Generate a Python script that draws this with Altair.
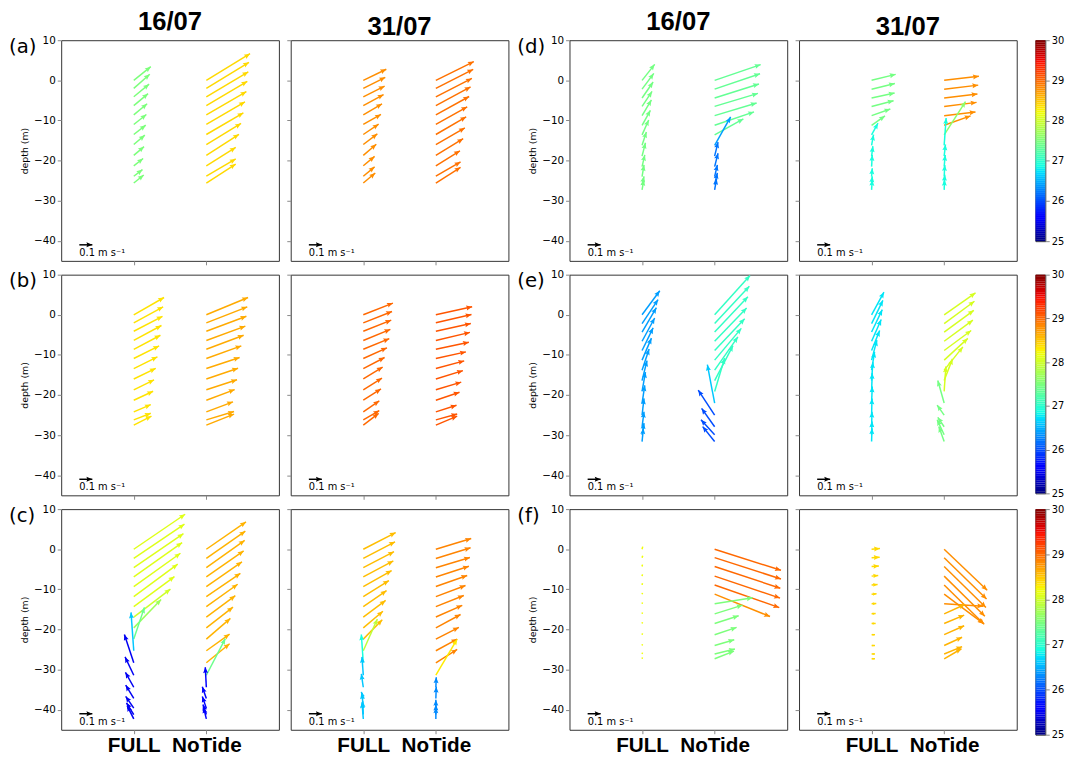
import math
import numpy as np
import pandas as pd
import altair as alt

# ---------------- data (velocities in cm/s, temperature in degC) ----------------
DATES = ["16/07", "31/07"]
XCATS = ["FULL", "NoTide"]
LETTERS = ["(a)", "(b)", "(c)", "(d)", "(e)", "(f)"]
YTICKS = [-40, -30, -20, -10, 0, 10]
CB_TICKS = [25, 26, 27, 28, 29, 30]
KEY_SPEED = 10.0  # cm/s reference arrow (0.1 m/s)

DEPTH_A = [0, -2.0, -4.1, -6.3, -8.6, -11.0, -13.5, -16.0, -18.7, -21.3, -23.9, -25.6]
DEPTH_B = [0, -2.0, -4.1, -6.4, -8.6, -10.9, -13.4, -16.0, -18.7, -21.3, -24.2, -26.2, -27.5]
DEPTH_C = [0, -2.3, -4.6, -6.9, -9.3, -11.8, -14.3, -16.9, -19.6, -22.4, -25.3, -28.3, -31.4, -34.4, -37.2, -39.6, -41.2, -42.3]
DEPTH_D = [0, -2.2, -4.4, -6.5, -8.8, -11.2, -13.6, -16.2, -18.9, -21.5, -24.0, -26.0, -27.3]
DEPTH_E = [0, -2.2, -4.3, -6.6, -8.9, -11.3, -13.8, -16.4, -19.1, -22.0, -25.0, -27.9, -29.9, -31.6]
DEPTH_F = [0, -2.1, -4.3, -6.7, -8.9, -11.2, -13.6, -16.1, -18.5, -21.3, -24.0, -26.1, -27.3]

A16_FULL_U = [13.1, 12.3, 11.8, 11.0, 10.3, 9.7, 9.2, 8.5, 7.9, 7.2, 6.7, 7.7]
A16_FULL_V = [10.5, 10.8, 9.7, 9.2, 8.5, 7.7, 7.2, 7.2, 6.7, 5.6, 5.1, 6.2]
A16_FULL_T = [27.5, 27.5, 27.5, 27.5, 27.5, 27.5, 27.5, 27.5, 27.5, 27.5, 27.5, 27.5]
A16_NOTIDE_U = [33.6, 32.8, 32.3, 31.5, 30.8, 29.7, 28.5, 26.7, 25.1, 22.6, 22.6, 22.6]
A16_NOTIDE_V = [20.5, 20.0, 19.2, 18.7, 17.9, 17.4, 16.7, 16.2, 16.2, 14.1, 13.3, 14.6]
A16_NOTIDE_T = [28.4, 28.4, 28.4, 28.4, 28.4, 28.4, 28.4, 28.4, 28.4, 28.4, 28.4, 28.4]

A31_FULL_U = [17.7, 16.9, 16.4, 15.6, 14.4, 13.6, 11.8, 10.8, 10.0, 8.7, 8.7, 9.2]
A31_FULL_V = [8.5, 8.5, 8.2, 8.5, 8.5, 7.7, 7.9, 8.2, 8.5, 7.2, 7.2, 7.7]
A31_FULL_T = [28.8, 28.8, 28.8, 28.8, 28.8, 28.8, 28.8, 28.8, 28.8, 28.8, 28.8, 28.8]
A31_NOTIDE_U = [29.2, 28.7, 27.7, 26.7, 25.6, 24.1, 23.3, 22.3, 21.0, 18.5, 19.0, 19.0]
A31_NOTIDE_V = [14.4, 14.6, 14.1, 14.4, 14.1, 13.6, 13.6, 12.8, 12.8, 11.5, 11.0, 12.1]
A31_NOTIDE_T = [28.95, 28.95, 28.95, 28.95, 28.95, 28.95, 28.95, 28.95, 28.95, 28.95, 28.95, 28.95]

B16_FULL_U = [23.3, 22.6, 22.1, 21.3, 20.5, 19.5, 18.2, 16.9, 15.6, 14.9, 13.1, 13.1, 13.6]
B16_FULL_V = [13.3, 12.3, 11.5, 11.5, 10.8, 9.7, 9.0, 8.2, 7.7, 6.9, 5.6, 5.1, 6.9]
B16_FULL_T = [28.35, 28.35, 28.35, 28.35, 28.35, 28.35, 28.35, 28.35, 28.35, 28.35, 28.35, 28.35, 28.35]
B16_NOTIDE_U = [32.1, 31.5, 30.8, 30.0, 28.7, 26.9, 25.6, 24.4, 23.6, 21.8, 20.5, 21.3, 21.3]
B16_NOTIDE_V = [13.3, 12.3, 11.5, 11.0, 10.8, 9.7, 8.5, 8.2, 7.7, 8.2, 7.7, 6.4, 8.5]
B16_NOTIDE_T = [28.65, 28.65, 28.65, 28.65, 28.65, 28.65, 28.65, 28.65, 28.65, 28.65, 28.65, 28.65, 28.65]

B31_FULL_U = [22.8, 22.1, 21.5, 20.8, 20.0, 18.2, 16.4, 14.9, 14.4, 13.6, 12.3, 12.3, 11.8]
B31_FULL_V = [9.0, 8.7, 8.5, 8.5, 8.2, 8.2, 8.5, 9.2, 9.0, 8.7, 8.5, 7.2, 9.0]
B31_FULL_T = [29.0, 29.0, 29.0, 29.0, 29.0, 29.0, 29.0, 29.0, 29.0, 29.0, 29.0, 29.0, 29.0]
B31_NOTIDE_U = [27.9, 27.4, 26.9, 26.2, 25.4, 23.1, 21.8, 20.8, 19.5, 18.2, 15.9, 16.4, 16.4]
B31_NOTIDE_V = [6.2, 6.4, 5.9, 6.2, 5.4, 5.1, 5.9, 6.4, 5.9, 6.2, 5.1, 4.6, 6.9]
B31_NOTIDE_T = [29.1, 29.1, 29.1, 29.1, 29.1, 29.1, 29.1, 29.1, 29.1, 29.1, 29.1, 29.1, 29.1]

C16_FULL_U = [39.5, 39.0, 38.2, 37.2, 35.9, 33.8, 31.3, 28.2, 21.0, 8.2, -2.1, -7.2, -6.7, -6.4, -6.2, -6.2, -5.6, -5.1]
C16_FULL_V = [26.9, 26.4, 26.2, 26.4, 25.6, 24.9, 23.1, 21.5, 21.8, 24.4, 29.5, 21.8, 14.1, 11.5, 10.3, 9.0, 9.0, 10.3]
C16_FULL_T = [28.1, 28.1, 28.1, 28.1, 28.1, 28.1, 28.1, 28.0, 27.7, 27.4, 26.6, 25.5, 25.5, 25.5, 25.5, 25.5, 25.5, 25.5]
C16_NOTIDE_U = [30.5, 30.0, 29.5, 28.7, 27.4, 26.2, 24.1, 22.3, 20.5, 18.5, 17.9, 17.9, 14.6, -0.8, -3.1, -3.1, -2.6, -2.1]
C16_NOTIDE_V = [21.0, 21.0, 21.0, 20.0, 19.0, 17.9, 17.2, 16.4, 15.9, 15.9, 12.8, 14.6, 28.2, 15.4, 9.0, 9.0, 7.7, 9.0]
C16_NOTIDE_T = [28.6, 28.6, 28.6, 28.6, 28.6, 28.6, 28.6, 28.6, 28.6, 28.6, 28.6, 28.6, 27.4, 25.6, 25.6, 25.6, 25.6, 25.6]

C31_FULL_U = [24.9, 24.4, 23.6, 23.1, 21.8, 19.7, 17.9, 17.2, 15.1, 14.6, 10.8, -1.5, -1.0, -1.5, -1.5, -1.0, -0.5, -1.0]
C31_FULL_V = [12.8, 12.8, 12.3, 12.3, 12.3, 12.3, 12.3, 12.8, 12.8, 14.9, 24.4, 21.8, 14.1, 10.3, 5.1, 11.5, 10.3, 12.8]
C31_FULL_T = [28.55, 28.55, 28.55, 28.55, 28.55, 28.55, 28.55, 28.55, 28.55, 28.55, 27.9, 26.9, 26.6, 26.6, 26.6, 26.6, 26.6, 26.6]
C31_NOTIDE_U = [27.2, 26.7, 26.2, 25.4, 24.1, 22.8, 21.5, 20.3, 19.0, 17.7, 16.4, 16.4, 16.4, 0.3, 0.3, 0.0, 0.0, 0.0]
C31_NOTIDE_V = [8.2, 8.2, 7.9, 8.2, 8.5, 8.5, 8.5, 9.0, 10.3, 9.0, 9.0, 10.3, 27.7, 7.7, 9.0, 6.4, 7.7, 9.0]
C31_NOTIDE_T = [28.85, 28.85, 28.85, 28.85, 28.85, 28.85, 28.85, 28.85, 28.85, 28.85, 28.85, 28.85, 28.3, 26.3, 26.3, 26.3, 26.3, 26.3]

D16_FULL_U = [9.7, 9.0, 8.5, 7.7, 7.2, 6.4, 5.1, 3.3, 2.6, 2.1, 1.5, 1.5, 1.3]
D16_FULL_V = [12.3, 12.1, 12.3, 11.5, 12.1, 11.5, 11.5, 10.3, 10.3, 9.0, 9.0, 6.4, 7.7]
D16_FULL_T = [27.45, 27.45, 27.45, 27.45, 27.45, 27.45, 27.45, 27.45, 27.45, 27.45, 27.45, 27.45, 27.45]
D16_NOTIDE_U = [35.4, 34.9, 34.1, 33.3, 32.3, 30.3, 22.1, 12.3, 2.6, 2.6, 2.1, 2.1, 1.5]
D16_NOTIDE_V = [12.1, 11.8, 10.8, 10.0, 9.7, 10.3, 12.3, 21.8, 10.8, 10.3, 9.0, 9.0, 8.5]
D16_NOTIDE_T = [27.35, 27.35, 27.35, 27.35, 27.35, 27.35, 27.35, 26.4, 26.2, 26.2, 26.2, 26.2, 26.2]

D31_FULL_U = [18.5, 17.9, 17.7, 16.9, 14.4, 10.3, 4.9, 1.5, 1.0, 0.5, 0.5, 0.5, 0.5]
D31_FULL_V = [4.6, 4.4, 3.8, 4.4, 5.1, 7.2, 9.0, 8.2, 7.7, 9.0, 6.4, 6.4, 7.7]
D31_FULL_T = [27.45, 27.45, 27.45, 27.45, 27.45, 27.45, 26.9, 26.9, 26.9, 26.9, 26.9, 26.9, 26.9]
D31_NOTIDE_U = [26.7, 26.2, 25.6, 24.9, 24.1, 20.3, 16.4, 1.5, 1.0, 0.8, 0.5, 0.5, 0.3]
D31_NOTIDE_V = [3.1, 3.1, 3.1, 3.1, 2.8, 7.2, 25.6, 21.0, 9.0, 9.0, 9.0, 7.7, 7.7]
D31_NOTIDE_T = [28.8, 28.8, 28.8, 28.8, 28.8, 28.8, 27.6, 26.9, 26.9, 26.9, 26.9, 26.9, 26.9]

E16_FULL_U = [13.6, 12.3, 11.0, 9.7, 8.5, 7.2, 5.4, 3.8, 2.6, 2.1, 1.5, 1.5, 1.5, 1.0]
E16_FULL_V = [18.5, 18.5, 18.7, 17.9, 17.4, 16.9, 16.2, 15.4, 14.9, 13.6, 12.8, 11.5, 9.0, 10.3]
E16_FULL_T = [26.4, 26.4, 26.4, 26.4, 26.4, 26.4, 26.4, 26.4, 26.4, 26.4, 26.4, 26.4, 26.4, 26.4]
E16_NOTIDE_U = [27.2, 26.7, 25.6, 24.6, 23.1, 20.5, 17.9, 14.1, 7.7, -5.6, -12.6, -10.0, -10.5, -9.2]
E16_NOTIDE_V = [30.3, 28.7, 27.2, 25.6, 24.4, 24.4, 25.6, 26.9, 25.6, 29.5, 19.2, 14.1, 11.5, 11.5]
E16_NOTIDE_T = [27.05, 27.05, 27.05, 27.05, 27.05, 27.05, 27.05, 27.05, 27.05, 26.6, 26.0, 26.0, 26.0, 26.0]

E31_FULL_U = [9.5, 8.7, 8.2, 7.4, 6.2, 4.1, 2.3, 1.0, 0.5, 0.5, 0.3, 0.3, 0.3, 0.3]
E31_FULL_V = [17.4, 17.9, 17.2, 16.7, 15.4, 15.4, 14.1, 14.1, 14.1, 12.8, 12.8, 11.5, 10.3, 10.3]
E31_FULL_T = [26.75, 26.75, 26.75, 26.75, 26.75, 26.75, 26.75, 26.75, 26.75, 26.75, 26.75, 26.75, 26.75, 26.75]
E31_NOTIDE_U = [24.1, 23.3, 22.8, 22.1, 20.8, 18.2, 14.4, 6.4, 1.3, -4.9, -5.4, -4.9, -5.4, -4.1]
E31_NOTIDE_V = [16.9, 17.2, 16.7, 16.2, 15.4, 16.7, 17.9, 16.7, 19.2, 17.4, 7.7, 7.2, 11.5, 11.5]
E31_NOTIDE_T = [28.05, 28.05, 28.05, 28.05, 28.05, 28.05, 28.05, 28.05, 28.05, 27.45, 27.45, 27.45, 27.45, 27.45]

F16_FULL_U = [0.5, 0.5, 0.3, 0.3, 0.3, 0.3, 0.3, 0.3, 0.3, 0.3, 0.3, 0.3, 0.3]
F16_FULL_V = [2.0, 1.5, 1.5, 1.3, 1.3, 1.0, 1.0, 1.0, 1.0, 1.0, 1.0, 1.0, 1.0]
F16_FULL_T = [28.2, 28.2, 28.2, 28.2, 28.2, 28.2, 28.2, 28.2, 28.2, 28.2, 28.2, 28.2, 28.2]
F16_NOTIDE_U = [51.0, 51.0, 50.5, 50.3, 49.7, 42.6, 29.2, 21.5, 18.5, 16.9, 15.1, 15.6, 14.9]
F16_NOTIDE_V = [-16.2, -16.4, -16.7, -16.9, -17.4, -17.2, 4.6, 6.7, 5.9, 5.6, 4.4, 3.8, 5.9]
F16_NOTIDE_T = [29.0, 29.0, 29.0, 29.0, 29.0, 28.8, 27.5, 27.5, 27.5, 27.5, 27.5, 27.5, 27.5]

F31_FULL_U = [6.4, 6.2, 5.6, 5.1, 4.6, 3.8, 3.6, 3.1, 3.1, 2.6, 2.6, 2.6, 2.6]
F31_FULL_V = [0.5, 0.3, 0.3, 0.5, 0.3, 0.3, 0.3, 0.3, 0.0, 0.0, 0.0, 0.0, 0.0]
F31_FULL_T = [28.4, 28.4, 28.4, 28.4, 28.4, 28.4, 28.4, 28.4, 28.4, 28.4, 28.4, 28.4, 28.4]
F31_NOTIDE_U = [33.1, 32.6, 32.1, 31.3, 30.8, 30.3, 30.0, 15.9, 15.4, 15.4, 13.8, 13.8, 13.3]
F31_NOTIDE_V = [-31.5, -31.8, -31.5, -30.8, -30.3, -22.6, -1.8, 7.2, 6.4, 6.9, 6.4, 5.6, 7.7]
F31_NOTIDE_T = [28.8, 28.8, 28.8, 28.8, 28.8, 28.8, 28.8, 28.6, 28.6, 28.6, 28.6, 28.6, 28.6]

# ---------------- layout / style ----------------
W, H = 221, 224
CB_HEIGHTS = [204, 222, 229]
XDOM = [0, 3]
YDOM = [-45, 10]
PX_PER_CMS = 1.32          # quiver scale: 0.1 m/s -> ~13 px
HEAD_PATH = "M0,0L-0.42,1L0,0.85L0.42,1Z"
HEAD_SIZE = 144
KX = W / (XDOM[1] - XDOM[0])
KY = H / (YDOM[1] - YDOM[0])

# jet colormap, 25..30 degC
JET_STOPS = [0, 0.11, 0.125, 0.34, 0.35, 0.375, 0.64, 0.65, 0.66, 0.89, 0.91, 1.0]


def jet_hex(t):
    r = np.interp(t, [0, 0.35, 0.66, 0.89, 1], [0, 0, 1, 1, 0.5])
    g = np.interp(t, [0, 0.125, 0.375, 0.64, 0.91, 1], [0, 0, 1, 1, 0, 0])
    b = np.interp(t, [0, 0.11, 0.34, 0.65, 1], [0.5, 1, 1, 0, 0])
    return "#%02x%02x%02x" % (int(round(r * 255)), int(round(g * 255)), int(round(b * 255)))


CSCALE = alt.Scale(domain=[25 + 5 * s for s in JET_STOPS],
                   range=[jet_hex(s) for s in JET_STOPS], interpolate="rgb", clamp=True)
XS = alt.Scale(domain=XDOM, nice=False, zero=False)
YS = alt.Scale(domain=YDOM, nice=False, zero=False)


def arrow_rec(x, d, u, v, t):
    dxp, dyp = u * PX_PER_CMS, v * PX_PER_CMS
    L = math.hypot(dxp, dyp)
    k = min(1.0, L / 8.0)
    return dict(x0=x, y0=d, x1=x + dxp / KX, y1=d + dyp / KY,
                ang=math.degrees(math.atan2(dxp, dyp)) % 360,
                sz=HEAD_SIZE * k * k, T=t)


def panel(depth, full, notide, letter=None, title=None, ylab=True, xlab=False):
    recs = []
    for xpos, (us, vs, ts) in ((1, full), (2, notide)):
        for d, u, v, t in zip(depth, us, vs, ts):
            recs.append(arrow_rec(xpos, d, u, v, t))
    df = pd.DataFrame(recs)
    key = pd.DataFrame([arrow_rec(0.25, -41.0, KEY_SPEED, 0.0, 0.0)])
    key["label"] = "0.1 m s\u207b\u00b9"

    xaxis = alt.Axis(values=[1, 2], labels=xlab,
                     labelExpr="datum.value == 1 ? '%s' : '%s'" % (XCATS[0], XCATS[1]),
                     labelFontSize=21, labelFont="Liberation Sans", labelFontWeight="bold",
                     labelColor="black", labelPadding=1, tickSize=4, domain=False,
                     grid=False, title=None)
    yk = dict(values=YTICKS, labels=ylab, tickSize=4, domain=False, grid=False,
              labelFontSize=10.5, labelFont="DejaVu Sans", labelColor="black", labelPadding=2)
    if ylab:
        yk.update(title="depth (m)", titleFontSize=9.5, titleFont="DejaVu Sans",
                  titleFontWeight="normal", titleColor="black", titlePadding=4)
    else:
        yk.update(title=None)
    yaxis = alt.Axis(**yk)

    def X(f):
        return alt.X(f, type="quantitative", scale=XS, axis=xaxis)

    def Y(f):
        return alt.Y(f, type="quantitative", scale=YS, axis=yaxis)

    col = alt.Color("T:Q", scale=CSCALE, legend=None)
    base = alt.Chart(df)
    shafts = base.mark_rule(strokeWidth=1.5).encode(x=X("x0"), y=Y("y0"), x2="x1", y2="y1", color=col)
    heads = base.mark_point(shape=HEAD_PATH, filled=True, opacity=1, strokeWidth=0).encode(
        x=X("x1"), y=Y("y1"), angle=alt.Angle("ang:Q", scale=None),
        size=alt.Size("sz:Q", scale=None), color=col)
    kb = alt.Chart(key)
    kshaft = kb.mark_rule(strokeWidth=1.5, color="black").encode(x=X("x0"), y=Y("y0"), x2="x1", y2="y1")
    khead = kb.mark_point(shape=HEAD_PATH, filled=True, opacity=1, strokeWidth=0, color="black").encode(
        x=X("x1"), y=Y("y1"), angle=alt.Angle("ang:Q", scale=None), size=alt.Size("sz:Q", scale=None))
    ktext = kb.mark_text(align="left", baseline="middle", fontSize=10, font="DejaVu Sans",
                         color="black", dy=8).encode(x=X("x0"), y=Y("y0"), text="label:N")
    layers = [shafts, heads, kshaft, khead, ktext]
    if letter:
        lt = alt.Chart(pd.DataFrame({"t": [letter]})).mark_text(
            align="left", baseline="middle", fontSize=20, font="DejaVu Sans", color="black").encode(
            x=alt.value(-53), y=alt.value(7), text="t:N")
        layers.append(lt)
    props = dict(width=W, height=H)
    if title:
        props["title"] = alt.TitleParams(text=title, fontSize=26, font="Liberation Sans",
                                         fontWeight="bold", color="black", anchor="middle", offset=0)
    return alt.layer(*layers).properties(**props)


def colorbar(h):
    edges = np.linspace(25, 30, 101)
    df = pd.DataFrame({"lo": edges[:-1], "hi": edges[1:], "mid": (edges[:-1] + edges[1:]) / 2})
    return alt.Chart(df).mark_rect().encode(
        y=alt.Y("lo:Q", scale=alt.Scale(domain=[25, 30], nice=False, zero=False),
                axis=alt.Axis(orient="right", values=CB_TICKS, title=None, tickSize=4, domain=False,
                              grid=False, labelFontSize=10, labelFont="DejaVu Sans", labelColor="black")),
        y2="hi", color=alt.Color("mid:Q", scale=CSCALE, legend=None)
    ).properties(width=10, height=h)


rows_def = [
    (DEPTH_A, (A16_FULL_U, A16_FULL_V, A16_FULL_T), (A16_NOTIDE_U, A16_NOTIDE_V, A16_NOTIDE_T),
     (A31_FULL_U, A31_FULL_V, A31_FULL_T), (A31_NOTIDE_U, A31_NOTIDE_V, A31_NOTIDE_T),
     DEPTH_D, (D16_FULL_U, D16_FULL_V, D16_FULL_T), (D16_NOTIDE_U, D16_NOTIDE_V, D16_NOTIDE_T),
     (D31_FULL_U, D31_FULL_V, D31_FULL_T), (D31_NOTIDE_U, D31_NOTIDE_V, D31_NOTIDE_T)),
    (DEPTH_B, (B16_FULL_U, B16_FULL_V, B16_FULL_T), (B16_NOTIDE_U, B16_NOTIDE_V, B16_NOTIDE_T),
     (B31_FULL_U, B31_FULL_V, B31_FULL_T), (B31_NOTIDE_U, B31_NOTIDE_V, B31_NOTIDE_T),
     DEPTH_E, (E16_FULL_U, E16_FULL_V, E16_FULL_T), (E16_NOTIDE_U, E16_NOTIDE_V, E16_NOTIDE_T),
     (E31_FULL_U, E31_FULL_V, E31_FULL_T), (E31_NOTIDE_U, E31_NOTIDE_V, E31_NOTIDE_T)),
    (DEPTH_C, (C16_FULL_U, C16_FULL_V, C16_FULL_T), (C16_NOTIDE_U, C16_NOTIDE_V, C16_NOTIDE_T),
     (C31_FULL_U, C31_FULL_V, C31_FULL_T), (C31_NOTIDE_U, C31_NOTIDE_V, C31_NOTIDE_T),
     DEPTH_F, (F16_FULL_U, F16_FULL_V, F16_FULL_T), (F16_NOTIDE_U, F16_NOTIDE_V, F16_NOTIDE_T),
     (F31_FULL_U, F31_FULL_V, F31_FULL_T), (F31_NOTIDE_U, F31_NOTIDE_V, F31_NOTIDE_T)),
]

rows = []
for i, (dl, l16f, l16n, l31f, l31n, dr, r16f, r16n, r31f, r31n) in enumerate(rows_def):
    top = i == 0
    bottom = i == 2
    t16 = DATES[0] if top else None
    t31 = DATES[1] if top else None
    p1 = panel(dl, l16f, l16n, letter=LETTERS[i], title=t16, ylab=True, xlab=bottom)
    p2 = panel(dl, l31f, l31n, title=t31, ylab=False, xlab=bottom)
    p3 = panel(dr, r16f, r16n, letter=LETTERS[i + 3], title=t16, ylab=True, xlab=bottom)
    p4 = panel(dr, r31f, r31n, title=t31, ylab=False, xlab=bottom)
    g1 = alt.hconcat(p1, p2, spacing=6)
    g2 = alt.hconcat(p3, p4, spacing=6)
    cb = colorbar(CB_HEIGHTS[i])
    rows.append(alt.hconcat(g1, alt.hconcat(g2, cb, spacing=17), spacing=7))

chart = alt.vconcat(*rows, spacing=3).properties(
    padding={"left": 0, "top": -5, "right": 0, "bottom": 0}
).configure_view(stroke="#333", strokeWidth=1)

chart.save("out.html", embed_options={"renderer": "svg", "actions": False})
